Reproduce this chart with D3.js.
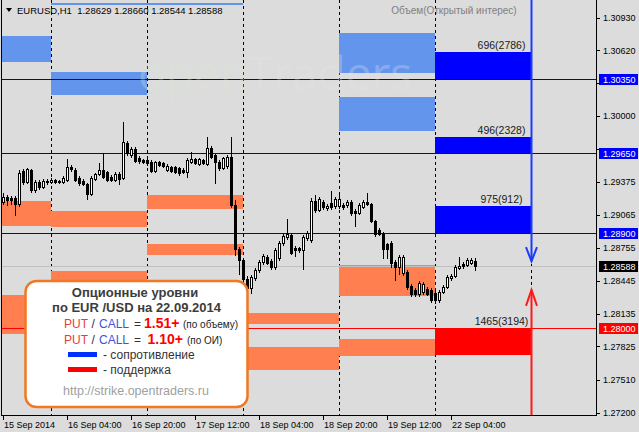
<!DOCTYPE html>
<html><head><meta charset="utf-8">
<script src="https://cdn.jsdelivr.net/npm/d3@7"></script>
<style>
body{margin:0;background:#dcdcdc;}
svg{display:block;font-family:"Liberation Sans",Arial,sans-serif;}
</style>
</head><body>
<svg id="c" width="639" height="432"></svg>
<script>
// ---------- DATA ----------
const opens = [1.29189,1.29236,1.29227,1.29227,1.29170,1.29482,1.29378,1.29491,1.29302,1.29378,
1.29331,1.29388,1.29378,1.29397,1.29378,1.29378,1.29397,1.29520,1.29491,1.29416,
1.29388,1.29359,1.29265,1.29406,1.29454,1.29491,1.29472,1.29425,1.29397,1.29454,
1.29416,1.29746,1.29633,1.29690,1.29605,1.29586,1.29586,1.29567,1.29482,1.29567,
1.29557,1.29491,1.29520,1.29520,1.29510,1.29491,1.29472,1.29567,1.29595,1.29548,
1.29586,1.29548,1.29699,1.29633,1.29567,1.29510,1.29529,1.29614,1.29161,1.28746,
1.28642,1.28462,1.28378,1.28472,1.28548,1.28623,1.28670,1.28632,1.28576,1.28661,
1.28802,1.28859,1.28878,1.28755,1.28755,1.28736,1.28849,1.28830,1.29199,1.29114,
1.29189,1.29132,1.29180,1.29151,1.29151,1.29161,1.29161,1.29189,1.29104,1.29085,
1.29142,1.29189,1.29170,1.29010,1.28925,1.28887,1.28793,1.28802,1.28623,1.28576,
1.28519,1.28529,1.28397,1.28359,1.28321,1.28340,1.28368,1.28359,1.28330,1.28264,
1.28340,1.28387,1.28472,1.28491,1.28567,1.28604,1.28595,1.28613,1.28629];
const highs = [1.29274,1.29255,1.29246,1.29246,1.29491,1.29501,1.29510,1.29501,1.29397,1.29397,
1.29406,1.29406,1.29416,1.29406,1.29397,1.29435,1.29595,1.29538,1.29510,1.29435,
1.29406,1.29369,1.29435,1.29463,1.29557,1.29652,1.29482,1.29444,1.29472,1.29472,
1.29944,1.29765,1.29709,1.29709,1.29624,1.29595,1.29605,1.29586,1.29576,1.29576,
1.29567,1.29548,1.29529,1.29529,1.29520,1.29510,1.29605,1.29661,1.29605,1.29605,
1.29595,1.29803,1.29718,1.29642,1.29586,1.29614,1.29633,1.29803,1.29208,1.28764,
1.28661,1.28491,1.28500,1.28567,1.28642,1.28698,1.28689,1.28651,1.28755,1.28821,
1.28887,1.29029,1.28896,1.28774,1.28764,1.28878,1.28915,1.29227,1.29255,1.29236,
1.29208,1.29170,1.29293,1.29236,1.29284,1.29180,1.29208,1.29208,1.29123,1.29180,
1.29208,1.29274,1.29180,1.29019,1.28944,1.28906,1.28802,1.28821,1.28642,1.28689,
1.28689,1.28548,1.28415,1.28378,1.28444,1.28434,1.28387,1.28378,1.28359,1.28359,
1.28406,1.28500,1.28510,1.28595,1.28670,1.28623,1.28661,1.28661,1.28660];
const lows = [1.29170,1.29161,1.29170,1.29066,1.29151,1.29359,1.29369,1.29284,1.29284,1.29312,
1.29321,1.29359,1.29369,1.29369,1.29369,1.29369,1.29388,1.29482,1.29388,1.29350,
1.29350,1.29218,1.29255,1.29397,1.29444,1.29416,1.29388,1.29388,1.29388,1.29359,
1.29406,1.29633,1.29614,1.29567,1.29557,1.29557,1.29538,1.29472,1.29472,1.29529,
1.29520,1.29482,1.29472,1.29463,1.29444,1.29463,1.29425,1.29557,1.29548,1.29538,
1.29548,1.29538,1.29605,1.29369,1.29491,1.29501,1.29510,1.29142,1.28689,1.28510,
1.28330,1.28359,1.28330,1.28453,1.28529,1.28604,1.28604,1.28557,1.28557,1.28642,
1.28783,1.28840,1.28698,1.28680,1.28717,1.28557,1.28830,1.28812,1.29095,1.29104,
1.29123,1.29114,1.29123,1.29132,1.29132,1.29123,1.29142,1.29066,1.28962,1.29076,
1.29132,1.29161,1.29000,1.28868,1.28878,1.28661,1.28661,1.28576,1.28453,1.28510,
1.28500,1.28368,1.28302,1.28302,1.28302,1.28321,1.28311,1.28245,1.28236,1.28245,
1.28330,1.28378,1.28453,1.28481,1.28557,1.28567,1.28586,1.28604,1.28544];
const closes = [1.29236,1.29208,1.29208,1.29170,1.29463,1.29378,1.29501,1.29302,1.29378,1.29331,
1.29388,1.29378,1.29397,1.29378,1.29388,1.29416,1.29520,1.29501,1.29397,1.29369,
1.29359,1.29265,1.29416,1.29454,1.29491,1.29425,1.29397,1.29397,1.29454,1.29406,
1.29756,1.29652,1.29690,1.29576,1.29576,1.29567,1.29557,1.29482,1.29567,1.29538,
1.29529,1.29529,1.29482,1.29472,1.29463,1.29472,1.29586,1.29595,1.29557,1.29595,
1.29557,1.29699,1.29614,1.29567,1.29510,1.29605,1.29614,1.29161,1.28746,1.28642,
1.28462,1.28378,1.28481,1.28548,1.28623,1.28680,1.28613,1.28576,1.28736,1.28802,
1.28868,1.28887,1.28708,1.28736,1.28736,1.28859,1.28896,1.29199,1.29114,1.29218,
1.29142,1.29151,1.29142,1.29218,1.29218,1.29142,1.29189,1.29085,1.29085,1.29161,
1.29189,1.29170,1.29010,1.28887,1.28887,1.28746,1.28746,1.28613,1.28576,1.28670,
1.28670,1.28387,1.28321,1.28321,1.28425,1.28415,1.28321,1.28264,1.28264,1.28340,
1.28387,1.28481,1.28491,1.28576,1.28586,1.28586,1.28642,1.28642,1.28588];

const timeTickBars = [0,16,32,48,64,80,96,112];
const timeTickLabels = ["15 Sep 2014","16 Sep 04:00","16 Sep 20:00","17 Sep 12:00","18 Sep 04:00","18 Sep 20:00","19 Sep 12:00","22 Sep 04:00"];
const daySeparatorBars = [12,36,60,84,108,132];
const priceTicks = [1.30930,1.30620,1.30310,1.30000,1.29690,1.29375,1.29065,1.28755,1.28445,1.28135,1.27825,1.27510,1.27200];

// past option zones (previous days)
const pastZoneStart = [-12,12,12,36,84,84,-12,-12,12,12,36,36,60,60,84,84];
const pastZoneEnd   = [12,36,36,60,108,108,12,12,36,36,60,60,84,84,108,108];
const pastZoneLow   = [1.30511,1.30199,1.31052,1.31052,1.30407,1.29859,1.28962,1.27943,1.28953,1.28400,1.29123,1.28689,1.28037,1.27603,1.28302,1.27735];
const pastZoneHigh  = [1.30756,1.30416,1.31071,1.31071,1.30784,1.30180,1.29199,1.28311,1.29104,1.28538,1.29255,1.28793,1.28141,1.27820,1.28594,1.27896];
const pastZoneKind  = ["r","r","r","r","r","r","s","s","s","s","s","s","s","s","s","s"];

// today's option levels (22.09.2014)
const todayStart = 108, todayEnd = 132;
const levelPrices = [1.30350,1.29650,1.28900,1.28000];
const levelEdges  = [1.30605,1.29803,1.29151,1.27745];
const levelLabels = ["696(2786)","496(2328)","975(912)","1465(3194)"];
const levelKind   = ["r","r","r","s"];

const bidPrice = 1.28588;
const arrowBar = 132;
const arrowTipResist = 1.28630;
const arrowTipSupport = 1.28360;

const headerText = "EURUSD,H1  1.28629 1.28660 1.28544 1.28588";

// ---------- DRAW ----------
const svg = d3.select("#c");
const W = 639, H = 432;
const plotL = 2, plotR = 596.5, plotB = 415.5;
const x = d3.scaleLinear().domain([0,148]).range([3.5,595.5]);
const y = d3.scaleLinear().domain([1.27200,1.30930]).range([412.7,17.6]);

const colors = {rPast:"#6495ED", sPast:"#FF7F50", r:"#0000FF", s:"#FF0000", rLine:"#0000C8", sLine:"#FF0000"};

svg.append("rect").attr("width",W).attr("height",H).attr("fill","#dcdcdc");

svg.append("defs").append("clipPath").attr("id","plot")
  .append("rect").attr("x",plotL).attr("y",0).attr("width",plotR-plotL).attr("height",plotB);

const g = svg.append("g").attr("clip-path","url(#plot)").attr("shape-rendering","crispEdges");

// day separators
g.selectAll("line.sep").data(daySeparatorBars).join("line")
  .attr("x1",d=>x(d)).attr("x2",d=>x(d)).attr("y1",0).attr("y2",plotB)
  .attr("stroke","#000").attr("stroke-dasharray","3,3");

// past zones
const pz = d3.range(pastZoneStart.length);
g.selectAll("rect.pz").data(pz).join("rect")
  .attr("x",i=>x(pastZoneStart[i])-0.5)
  .attr("width",i=>x(pastZoneEnd[i])-x(pastZoneStart[i]))
  .attr("y",i=>Math.round(y(pastZoneHigh[i])))
  .attr("height",i=>Math.round(y(pastZoneLow[i]))-Math.round(y(pastZoneHigh[i])))
  .attr("fill",i=>pastZoneKind[i]==="r"?colors.rPast:colors.sPast);

// today's zones
const lz = d3.range(levelPrices.length);
g.selectAll("rect.tz").data(lz).join("rect")
  .attr("x",x(todayStart)-0.5)
  .attr("width",x(todayEnd)-x(todayStart))
  .attr("y",i=>Math.round(y(Math.max(levelPrices[i],levelEdges[i]))))
  .attr("height",i=>Math.abs(Math.round(y(levelPrices[i]))-Math.round(y(levelEdges[i]))))
  .attr("fill",i=>levelKind[i]==="r"?colors.r:colors.s);

// bid line
g.append("line").attr("x1",plotL).attr("x2",plotR)
  .attr("y1",Math.round(y(bidPrice))+0.5).attr("y2",Math.round(y(bidPrice))+0.5)
  .attr("stroke","#c0c0c0");

// level lines
g.selectAll("line.lvl").data(lz).join("line")
  .attr("x1",plotL).attr("x2",plotR)
  .attr("y1",i=>Math.round(y(levelPrices[i]))+0.5).attr("y2",i=>Math.round(y(levelPrices[i]))+0.5)
  .attr("stroke",i=>levelKind[i]==="r"?colors.rLine:colors.sLine);

// candles
const idx = d3.range(opens.length);
const cg = g.append("g");
cg.selectAll("line.wick").data(idx).join("line")
  .attr("x1",i=>x(i)).attr("x2",i=>x(i))
  .attr("y1",i=>Math.round(y(highs[i]))).attr("y2",i=>Math.round(y(lows[i]))+1)
  .attr("stroke","#000");
function bodyTop(i){return Math.round(y(Math.max(opens[i],closes[i])));}
function bodyH(i){return Math.max(1,Math.round(y(Math.min(opens[i],closes[i])))-bodyTop(i)+1);}
cg.selectAll("rect.body").data(idx).join("rect")
  .attr("x",i=>x(i)-1.5).attr("width",3)
  .attr("y",bodyTop).attr("height",bodyH)
  .attr("fill","#000");
cg.selectAll("rect.bull").data(idx.filter(i=>closes[i]>opens[i] && bodyH(i)>2)).join("rect")
  .attr("x",i=>x(i)-0.5).attr("width",1)
  .attr("y",i=>bodyTop(i)+1).attr("height",i=>bodyH(i)-2)
  .attr("fill","#fff");

// arrows
const ax = x(arrowBar);
const ya = y(arrowTipResist), ys = y(arrowTipSupport);
const ag = svg.append("g").attr("fill","none").attr("stroke-width",2).attr("clip-path","url(#plot)");
ag.append("line").attr("x1",ax).attr("x2",ax).attr("y1",0).attr("y2",ya).attr("stroke","#1a3cff");
ag.append("path").attr("d",`M${ax-5.5},${ya-14}L${ax},${ya}L${ax+5.5},${ya-14}`).attr("stroke","#1a3cff");
ag.append("line").attr("x1",ax).attr("x2",ax).attr("y1",ys).attr("y2",plotB).attr("stroke","#ff1a1a");
ag.append("path").attr("d",`M${ax-5.5},${ys+16}L${ax},${ys}L${ax+5.5},${ys+16}`).attr("stroke","#ff1a1a");

// zone labels
const labelX = (x(todayStart)+x(todayEnd))/2 + 18;
svg.selectAll("text.zl").data(lz).join("text")
  .attr("x",labelX)
  .attr("y",i=>y(levelKind[i]==="r"?levelEdges[i]:levelPrices[i])-3)
  .attr("text-anchor","middle").attr("font-size","10.5px").attr("fill","#202020")
  .text(i=>levelLabels[i]);

// watermark
const wm = svg.append("text").attr("x",138).attr("y",90).attr("font-size","46px")
  .attr("font-family","'Open Sans',sans-serif").attr("opacity",0.28);
wm.append("tspan").attr("fill","#d8ecd0").text("open");
wm.append("tspan").attr("fill","#e4e4e4").text("Traders");

// frame
svg.append("g").attr("stroke","#000").attr("shape-rendering","crispEdges").call(s=>{
  s.append("line").attr("x1",1.5).attr("x2",1.5).attr("y1",0).attr("y2",plotB);
  s.append("line").attr("x1",plotR).attr("x2",plotR).attr("y1",0).attr("y2",plotB);
  s.append("line").attr("x1",1.5).attr("x2",plotR).attr("y1",plotB).attr("y2",plotB);
});

// highlighted price boxes data
const boxes = levelPrices.map((p,i)=>({p, c: levelKind[i]==="r"?colors.r:colors.s}))
  .concat([{p:bidPrice, c:"#000"}]);
// tick labels hidden behind a highlighted box (as in the terminal) are not drawn
const hidden = d => boxes.some(b => Math.abs(y(b.p)-y(d)) < 9);

// right price axis
const ra = svg.append("g").attr("font-size","9px");
ra.selectAll("line").data(priceTicks).join("line")
  .attr("x1",plotR).attr("x2",plotR+3.5)
  .attr("y1",d=>Math.round(y(d))+0.5).attr("y2",d=>Math.round(y(d))+0.5)
  .attr("stroke","#000").attr("shape-rendering","crispEdges");
ra.selectAll("text").data(priceTicks.filter(d=>!hidden(d))).join("text")
  .attr("x",603).attr("y",d=>y(d)).attr("dy","0.35em").attr("fill","#000")
  .text(d=>d.toFixed(5));

const bg = svg.append("g").attr("font-size","9px");
bg.selectAll("rect").data(boxes).join("rect")
  .attr("x",599).attr("width",39).attr("y",d=>Math.round(y(d.p))-5).attr("height",11)
  .attr("fill",d=>d.c).attr("shape-rendering","crispEdges");
bg.selectAll("text").data(boxes).join("text")
  .attr("x",603).attr("y",d=>Math.round(y(d.p))+0.5).attr("dy","0.35em").attr("fill","#fff")
  .text(d=>d.p.toFixed(5));

// bottom time axis
const ba = svg.append("g").attr("font-size","9px");
ba.selectAll("line").data(timeTickBars).join("line")
  .attr("x1",d=>x(d)).attr("x2",d=>x(d)).attr("y1",plotB).attr("y2",plotB+4)
  .attr("stroke","#000").attr("shape-rendering","crispEdges");
ba.selectAll("text").data(timeTickBars).join("text")
  .attr("x",d=>x(d)+0.5).attr("y",428).attr("fill","#000")
  .text((d,i)=>timeTickLabels[i]);

// header
svg.append("path").attr("d","M6,8L12,8L9,12Z").attr("fill","#000");
svg.append("text").attr("x",17).attr("y",14).attr("font-size","9.5px").attr("fill","#000")
  .style("white-space","pre").text(headerText);
svg.append("text").attr("x",454).attr("y",14).attr("text-anchor","middle")
  .attr("font-size","10px").attr("fill","#808080").text("Объем(Открытый интерес)");

// legend box
const lg = svg.append("g");
lg.append("rect").attr("x",25.5).attr("y",281).attr("width",222).attr("height",126)
  .attr("rx",11).attr("fill","#fff").attr("stroke","#f07820").attr("stroke-width",2.5);
lg.append("text").attr("x",135).attr("y",297).attr("text-anchor","middle")
  .attr("font-size","13px").attr("font-weight","bold").attr("fill","#3c3c3c").text("Опционные уровни");
lg.append("text").attr("x",136.5).attr("y",312).attr("text-anchor","middle")
  .attr("font-size","13px").attr("font-weight","bold").attr("fill","#3c3c3c").text("по EUR /USD на 22.09.2014");
function ratioLine(yy, val, valX, note, noteX){
  lg.append("text").attr("x",64).attr("y",yy).attr("font-size","12px").attr("fill","#ee3b3b").text("PUT");
  lg.append("text").attr("x",91.5).attr("y",yy).attr("font-size","12px").attr("fill","#333").text("/");
  lg.append("text").attr("x",99).attr("y",yy).attr("font-size","12px").attr("fill","#3a55d8").text("CALL");
  lg.append("text").attr("x",134).attr("y",yy).attr("font-size","12px").attr("fill","#333").text("=");
  lg.append("text").attr("x",valX).attr("y",yy).attr("font-size","14px").attr("font-weight","bold").attr("fill","#ff0000").text(val);
  lg.append("text").attr("x",noteX).attr("y",yy).attr("font-size","10px").attr("fill","#222").text(note);
}
ratioLine(328,"1.51+",144,"(по объему)",183);
ratioLine(343.5,"1.10+",147.5,"(по ОИ)",187);
lg.append("rect").attr("x",68).attr("y",352).attr("width",29).attr("height",5).attr("fill","#0030ff");
lg.append("text").attr("x",103).attr("y",358.5).attr("font-size","12px").attr("fill","#333").text("- сопротивление");
lg.append("rect").attr("x",68).attr("y",367).attr("width",29).attr("height",5).attr("fill","#ff0000");
lg.append("text").attr("x",103).attr("y",373.5).attr("font-size","12px").attr("fill","#333").text("- поддержка");
lg.append("text").attr("x",136).attr("y",394.5).attr("text-anchor","middle")
  .attr("font-size","12.5px").attr("fill","#a0a0a0").text("http://strike.opentraders.ru");
</script>
</body></html>
